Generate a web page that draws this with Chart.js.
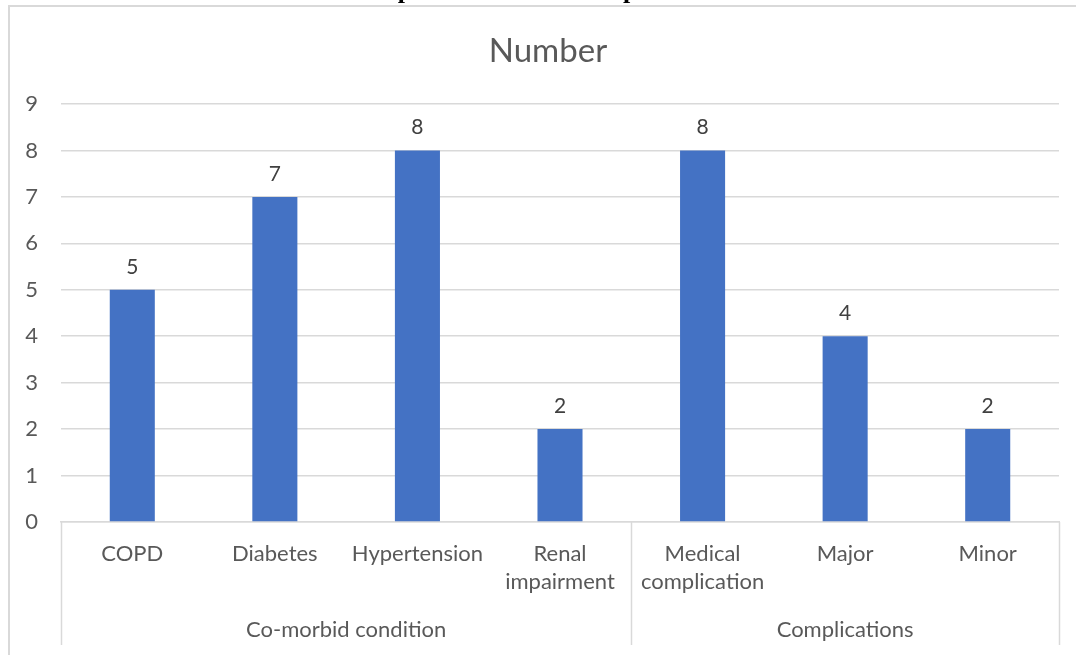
<!DOCTYPE html>
<html>
<head>
<meta charset="utf-8">
<script src="https://cdn.jsdelivr.net/npm/chart.js@4/dist/chart.umd.min.js"></script>
<style>
  html, body { margin: 0; padding: 0; background: #ffffff; }
  #wrap { position: relative; width: 1076px; height: 655px; overflow: hidden; }
  canvas { display: block; }
</style>
</head>
<body>
<div id="wrap"><canvas id="chart" width="1076" height="655"></canvas></div>
<script>
// Category labels (multi-line where the label wraps)
const categories = ["COPD", "Diabetes", "Hypertension", ["Renal", "impairment"], ["Medical", "complication"], "Major", "Minor"];
// Outer grouping of the categories
const groups = ["Co-morbid condition", "Complications"];
const groupSizes = [4, 3];
// Counts per category
const values = [5, 7, 8, 2, 8, 4, 2];
// Value axis range
const yMin = 0;
const yMax = 9;
const yStep = 1;

const seriesName = "Number";
const pageCaption = "Graph 1: Assessment of parameters";

const FONT = "Lato, 'Open Sans', sans-serif";
const TEXT = "#595959";
const GRID = "#d9d9d9";

// Outer frame, the caption above it and the chart title
const framePlugin = {
  id: "frame",
  beforeDraw(chart) {
    const ctx = chart.ctx;
    ctx.save();
    ctx.fillStyle = "#ffffff";
    ctx.fillRect(0, 0, chart.width, chart.height);
    ctx.strokeStyle = GRID;
    ctx.lineWidth = 2;
    ctx.strokeRect(9, 6, chart.width + 20, chart.height + 20);
    ctx.fillStyle = "#000000";
    ctx.font = "bold 26px 'Liberation Serif', 'Times New Roman', serif";
    ctx.textAlign = "left";
    ctx.textBaseline = "alphabetic";
    ctx.fillText(pageCaption, 353, -2);
    ctx.fillStyle = TEXT;
    ctx.font = "33px " + FONT;
    ctx.textAlign = "center";
    ctx.textBaseline = "middle";
    ctx.fillText(seriesName, 548, 51);
    ctx.restore();
  }
};

// Second-level category axis: separators and group names
const groupAxisPlugin = {
  id: "groupAxis",
  afterDraw(chart) {
    const x = chart.scales.x;
    const ctx = chart.ctx;
    const n = categories.length;
    const w = (x.right - x.left) / n;
    const top = x.top;
    const bottom = 645;
    ctx.save();
    ctx.strokeStyle = GRID;
    ctx.lineWidth = 1.5;
    let start = 0;
    const edges = [x.getPixelForValue(0) - w / 2];
    groupSizes.forEach(s => {
      start += s;
      edges.push(x.getPixelForValue(start - 1) + w / 2);
    });
    edges.forEach(px => {
      ctx.beginPath();
      ctx.moveTo(Math.round(px) + 0.5, top);
      ctx.lineTo(Math.round(px) + 0.5, bottom);
      ctx.stroke();
    });
    ctx.fillStyle = TEXT;
    ctx.font = "22px " + FONT;
    ctx.textAlign = "center";
    ctx.textBaseline = "middle";
    groups.forEach((g, i) => {
      ctx.fillText(g, (edges[i] + edges[i + 1]) / 2, 630);
    });
    ctx.restore();
  }
};

// Value labels above each bar
const valueLabelPlugin = {
  id: "valueLabels",
  afterDatasetsDraw(chart) {
    const ctx = chart.ctx;
    const meta = chart.getDatasetMeta(0);
    ctx.save();
    ctx.fillStyle = "#404040";
    ctx.font = "21px " + FONT;
    ctx.textAlign = "center";
    ctx.textBaseline = "middle";
    meta.data.forEach((bar, i) => {
      ctx.fillText(String(values[i]), bar.x, bar.y - 23);
    });
    ctx.restore();
  }
};

new Chart(document.getElementById("chart"), {
  type: "bar",
  data: {
    labels: categories,
    datasets: [{
      label: seriesName,
      data: values,
      backgroundColor: "#4472c4",
      borderWidth: 0,
      categoryPercentage: 1,
      barPercentage: 0.316
    }]
  },
  options: {
    responsive: false,
    animation: false,
    devicePixelRatio: 1,
    layout: { padding: { left: 0, right: 17, top: 104, bottom: 0 } },
    plugins: {
      legend: { display: false },
      tooltip: { enabled: false },
      title: { display: false }
    },
    scales: {
      x: {
        grid: { display: false, drawTicks: false },
        border: { display: true, color: GRID, width: 1.5 },
        ticks: {
          color: TEXT,
          font: { family: FONT, size: 22, lineHeight: 1.27 },
          padding: 18,
          maxRotation: 0,
          autoSkip: false
        },
        afterFit(scale) { scale.height = 133; }
      },
      y: {
        min: yMin,
        max: yMax,
        grid: { color: GRID, lineWidth: 1.5, drawTicks: false },
        border: { display: false },
        ticks: {
          stepSize: yStep,
          color: TEXT,
          font: { family: FONT, size: 22 },
          padding: 23
        },
        afterFit(scale) { scale.width = 61; }
      }
    }
  },
  plugins: [framePlugin, groupAxisPlugin, valueLabelPlugin]
});
</script>
</body>
</html>
